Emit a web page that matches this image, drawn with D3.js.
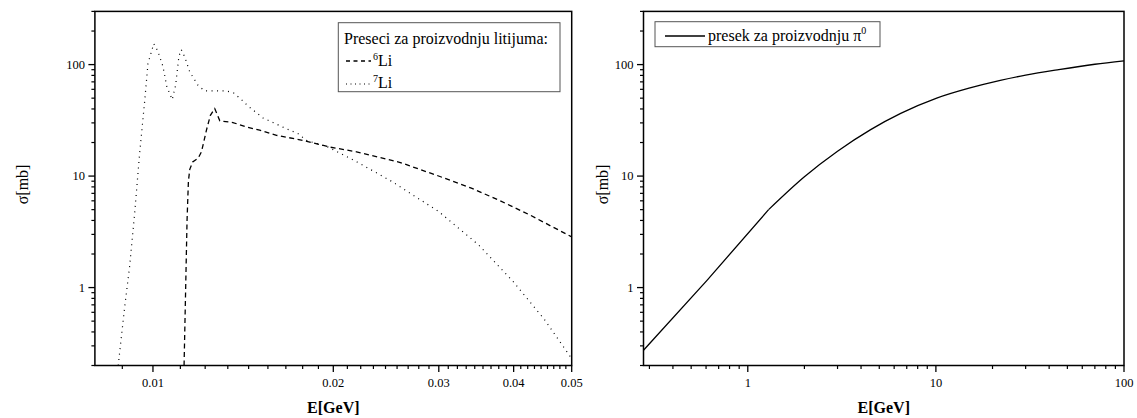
<!DOCTYPE html>
<html>
<head>
<meta charset="utf-8">
<script src="https://cdn.jsdelivr.net/npm/d3@7"></script>
<style>
  html, body { margin: 0; padding: 0; background: #fff; }
  svg { display: block; }
  text { font-family: "Liberation Serif", "Times New Roman", serif; fill: #000; }
</style>
</head>
<body>
<svg id="chart" width="1137" height="418"></svg>
<script>
// ---------- data ----------
// Left panel: lithium production cross sections
const li6Energy = [0.01127, 0.01134, 0.01140, 0.01146, 0.01152, 0.01165, 0.01190, 0.01205, 0.01228, 0.01247, 0.01268, 0.01293, 0.01360, 0.01432, 0.01507, 0.01608, 0.01781, 0.01973, 0.02187, 0.0258, 0.0297, 0.0340, 0.0380, 0.0425, 0.0460, 0.0500];
const li6Sigma  = [0.2, 1.0, 4.0, 9.0, 11.5, 13.4, 14.5, 16.5, 25.7, 35.1, 40.3, 31.3, 30.2, 27.6, 25.8, 23.2, 20.9, 18.2, 16.5, 13.3, 10.2, 7.8, 6.0, 4.5, 3.6, 2.85];

const li7Energy = [0.00875, 0.00897, 0.00914, 0.00932, 0.0095, 0.00969, 0.00981, 0.01003, 0.01019, 0.01039, 0.01055, 0.01077, 0.01091, 0.01105, 0.01115, 0.0113, 0.01152, 0.01189, 0.0122, 0.01326, 0.01364, 0.01405, 0.01441, 0.01527, 0.0166, 0.01747, 0.01804, 0.01961, 0.02073, 0.0219, 0.025, 0.030, 0.035, 0.040, 0.045, 0.050];
const li7Sigma  = [0.2, 0.67, 1.53, 4.61, 15.9, 47.9, 102, 154, 132, 96.6, 63, 48.5, 65.2, 119, 136, 117, 85.9, 65.2, 58, 58, 55.6, 48.5, 42.5, 33.2, 27, 24, 20.9, 18.2, 15.6, 13.4, 9.0, 4.8, 2.4, 1.12, 0.52, 0.23];

// Right panel: pi0 production cross section (kink at 1.29 GeV)
const pi0Energy = [0.279, 0.607, 1.29, 2, 3, 4.5, 6.5, 10.1, 15, 22, 30, 45, 70, 100];
const pi0Sigma  = [0.274, 1.16, 5.0, 9.86, 16.7, 26.1, 36.5, 50.1, 61.5, 72.3, 80.5, 90.2, 100.7, 108];
const pi0KinkIndex = 2;

// ticks
const leftXMajor = [0.01, 0.02, 0.03, 0.04, 0.05];
const leftXLabels = ["0.01", "0.02", "0.03", "0.04", "0.05"];
const rightXMajor = [1, 10, 100];
const rightXLabels = ["1", "10", "100"];
const yMajor = [1, 10, 100];
const yLabels = ["1", "10", "100"];

// ---------- layout ----------
const svg = d3.select("#chart");
const yRange = [365.5, 11.4];
const yScaleL = d3.scaleLog().domain([0.2, 300]).range(yRange);
const yScaleR = d3.scaleLog().domain([0.2, 300]).range(yRange);
const xScaleL = d3.scaleLog().domain([0.008, 0.05]).range([94.9, 571.7]);
const xScaleR = d3.scaleLog().domain([0.279, 100]).range([643.5, 1124]);

function logMinor(domain, majors) {
  const out = [];
  for (let e = -4; e <= 3; e++) {
    for (let m = 1; m <= 9; m++) {
      const v = m * Math.pow(10, e);
      if (v >= domain[0] * 0.9999 && v <= domain[1] * 1.0001 && !majors.some(M => Math.abs(M - v) / v < 1e-6)) out.push(v);
    }
  }
  return out;
}
function linMinorLeft(domain) {
  const out = [];
  for (let i = 1; i < 50; i++) {
    if (i % 9 === 0) continue;
    const v = i * 0.01 / 9;
    if (v >= domain[0] && v <= domain[1]) out.push(v);
  }
  return out;
}

function drawPanel(x, y, xMajor, xLabels, xMinor, yMinor, ylabX) {
  const g = svg.append("g");
  const [x0, x1] = x.range();
  const [y0, y1] = y.range();
  g.selectAll(".xmin").data(xMinor).join("line")
    .attr("x1", d => x(d)).attr("x2", d => x(d))
    .attr("y1", y0).attr("y2", y0 + 3.5)
    .attr("stroke", "#000").attr("stroke-width", 1.2);
  g.selectAll(".xmaj").data(xMajor).join("line")
    .attr("x1", d => x(d)).attr("x2", d => x(d))
    .attr("y1", y0).attr("y2", y0 + 6.5)
    .attr("stroke", "#000").attr("stroke-width", 1.3);
  g.selectAll(".xlab").data(xMajor).join("text")
    .attr("x", d => x(d)).attr("y", 387)
    .attr("text-anchor", "middle").attr("font-size", 12.5)
    .text((d, i) => xLabels[i]);
  g.selectAll(".ymin").data(yMinor).join("line")
    .attr("x1", x0 - 3.5).attr("x2", x0)
    .attr("y1", d => y(d)).attr("y2", d => y(d))
    .attr("stroke", "#000").attr("stroke-width", 1.2);
  g.selectAll(".ymaj").data(yMajor).join("line")
    .attr("x1", x0 - 6.5).attr("x2", x0)
    .attr("y1", d => y(d)).attr("y2", d => y(d))
    .attr("stroke", "#000").attr("stroke-width", 1.3);
  g.selectAll(".ylab").data(yMajor).join("text")
    .attr("x", x0 - 10).attr("y", d => y(d)).attr("dy", "0.35em")
    .attr("text-anchor", "end").attr("font-size", 12.5)
    .text((d, i) => yLabels[i]);
  g.append("rect").attr("x", x0).attr("y", y1).attr("width", x1 - x0).attr("height", y0 - y1)
    .attr("fill", "none").attr("stroke", "#000").attr("stroke-width", 1.5);
  g.append("text").attr("x", (x0 + x1) / 2).attr("y", 413)
    .attr("text-anchor", "middle").attr("font-size", 16).attr("font-weight", "bold")
    .text("E[GeV]");
  g.append("text").attr("transform", `translate(${ylabX},${(y0 + y1) / 2 - 4}) rotate(-90)`)
    .attr("text-anchor", "middle").attr("dy", "0.35em").attr("font-size", 16)
    .text("σ[mb]");
  return g;
}

const yMinor = logMinor([0.2, 300], yMajor);
drawPanel(xScaleL, yScaleL, leftXMajor, leftXLabels, linMinorLeft([0.008, 0.05]), yMinor, 22);
drawPanel(xScaleR, yScaleR, rightXMajor, rightXLabels, logMinor([0.279, 100], rightXMajor), yMinor, 602);

const defs = svg.append("defs");
defs.append("clipPath").attr("id", "clipL").append("rect")
  .attr("x", 94.9).attr("y", 11.4).attr("width", 571.7 - 94.9).attr("height", 365.5 - 11.4);
defs.append("clipPath").attr("id", "clipR").append("rect")
  .attr("x", 643.5).attr("y", 11.4).attr("width", 1124 - 643.5).attr("height", 365.5 - 11.4);

const lineL = d3.line().x(d => xScaleL(d[0])).y(d => yScaleL(d[1]));
const lineRLin = d3.line().x(d => xScaleR(d[0])).y(d => yScaleR(d[1]));
const lineRSmooth = d3.line().x(d => xScaleR(d[0])).y(d => yScaleR(d[1])).curve(d3.curveMonotoneX);

svg.append("path").attr("clip-path", "url(#clipL)")
  .datum(li6Energy.map((e, i) => [e, li6Sigma[i]]))
  .attr("d", lineL).attr("fill", "none").attr("stroke", "#000")
  .attr("stroke-width", 1.3).attr("stroke-dasharray", "5,3.5");
svg.append("path").attr("clip-path", "url(#clipL)")
  .datum(li7Energy.map((e, i) => [e, li7Sigma[i]]))
  .attr("d", lineL).attr("fill", "none").attr("stroke", "#000")
  .attr("stroke-width", 1.2).attr("stroke-dasharray", "1,4.5");

const pi0Pts = pi0Energy.map((e, i) => [e, pi0Sigma[i]]);
svg.append("path").attr("clip-path", "url(#clipR)")
  .datum(pi0Pts.slice(0, pi0KinkIndex + 1))
  .attr("d", lineRLin).attr("fill", "none").attr("stroke", "#000")
  .attr("stroke-width", 1.3).attr("stroke-linejoin", "round");
svg.append("path").attr("clip-path", "url(#clipR)")
  .datum(pi0Pts.slice(pi0KinkIndex))
  .attr("d", lineRSmooth).attr("fill", "none").attr("stroke", "#000")
  .attr("stroke-width", 1.3).attr("stroke-linejoin", "round");

// ---------- legends ----------
const legL = svg.append("g");
legL.append("rect").attr("x", 338.3).attr("y", 22.7).attr("width", 221.7).attr("height", 69)
  .attr("fill", "#fff").attr("stroke", "#555").attr("stroke-width", 1);
legL.append("text").attr("x", 344).attr("y", 44).attr("font-size", 16).text("Preseci za proizvodnju litijuma:");
legL.append("line").attr("x1", 346).attr("x2", 371).attr("y1", 61).attr("y2", 61)
  .attr("stroke", "#000").attr("stroke-width", 1.3).attr("stroke-dasharray", "4,3.5");
const t6 = legL.append("text").attr("x", 373).attr("y", 66).attr("font-size", 16);
t6.append("tspan").attr("font-size", 10).attr("dy", -6).text("6");
t6.append("tspan").attr("dy", 6).text("Li");
legL.append("line").attr("x1", 346).attr("x2", 371).attr("y1", 84).attr("y2", 84)
  .attr("stroke", "#000").attr("stroke-width", 1.2).attr("stroke-dasharray", "1,3.5");
const t7 = legL.append("text").attr("x", 373).attr("y", 88).attr("font-size", 16);
t7.append("tspan").attr("font-size", 10).attr("dy", -6).text("7");
t7.append("tspan").attr("dy", 6).text("Li");

const legR = svg.append("g");
legR.append("rect").attr("x", 655).attr("y", 21.7).attr("width", 225).attr("height", 25)
  .attr("fill", "#fff").attr("stroke", "#555").attr("stroke-width", 1);
legR.append("line").attr("x1", 665).attr("x2", 705).attr("y1", 36).attr("y2", 36)
  .attr("stroke", "#000").attr("stroke-width", 1.3);
const tp = legR.append("text").attr("x", 708).attr("y", 41).attr("font-size", 16);
tp.append("tspan").text("presek za proizvodnju π");
tp.append("tspan").attr("font-size", 10).attr("dy", -7).text("0");
</script>
</body>
</html>
